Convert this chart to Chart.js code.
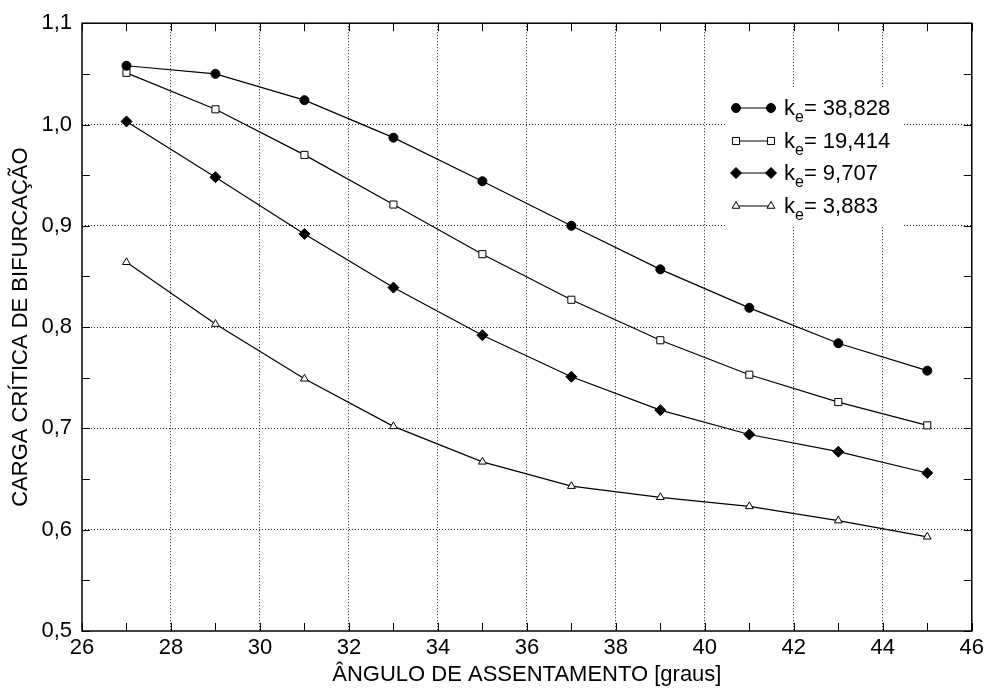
<!DOCTYPE html>
<html>
<head>
<meta charset="utf-8">
<script src="https://cdn.jsdelivr.net/npm/chart.js@4/dist/chart.umd.min.js"></script>
<style>
  body { margin: 0; background: #fff; }
</style>
</head>
<body>
<canvas id="myChart" width="988" height="690"></canvas>
<script>
const angles = [27, 29, 31, 33, 35, 37, 39, 41, 43, 45];
const ke38828 = [1.058, 1.050, 1.024, 0.987, 0.944, 0.900, 0.857, 0.819, 0.784, 0.757];
const ke19414 = [1.051, 1.015, 0.970, 0.921, 0.872, 0.827, 0.787, 0.753, 0.726, 0.703];
const ke9707 = [1.003, 0.948, 0.892, 0.839, 0.792, 0.751, 0.718, 0.694, 0.677, 0.656];
const ke3883 = [0.864, 0.803, 0.749, 0.702, 0.667, 0.643, 0.632, 0.623, 0.609, 0.593];
const seriesNames = ['38,828', '19,414', '9,707', '3,883'];

const FONT = '"Liberation Sans", Arial, Helvetica, sans-serif';

const toPoints = (vals) => angles.map((a, i) => ({ x: a, y: vals[i] }));

const styles = [
    { pointStyle: 'circle', radius: 4.5, fill: '#000' },
    { pointStyle: 'rect', radius: 5, fill: '#fff' },
    { pointStyle: 'rectRot', radius: 5.5, fill: '#000' },
    { pointStyle: 'triangle', radius: 4.5, fill: '#fff' }
];

const makeSet = (vals, idx) => ({
    label: 'ke= ' + seriesNames[idx],
    data: toPoints(vals),
    borderColor: '#000',
    borderWidth: 1.2,
    backgroundColor: styles[idx].fill,
    pointStyle: styles[idx].pointStyle,
    pointRadius: styles[idx].radius,
    pointBorderColor: '#000',
    pointBackgroundColor: styles[idx].fill,
    pointBorderWidth: 1,
    tension: 0,
    fill: false
});

const isMajorY = (v) => Math.abs(Math.round(v * 10) - v * 10) < 1e-6;

// inward ticks on all four sides + the box
const frameTicks = {
    id: 'frameTicks',
    afterDraw(chart) {
        const { ctx, chartArea: a, scales } = chart;
        ctx.save();
        ctx.strokeStyle = '#000';
        ctx.lineWidth = 1;
        for (let v = 26; v <= 46; v++) {
            const px = Math.round(scales.x.getPixelForValue(v)) + 0.5;
            ctx.beginPath();
            ctx.moveTo(px, a.bottom); ctx.lineTo(px, a.bottom - 8);
            ctx.moveTo(px, a.top); ctx.lineTo(px, a.top + 8);
            ctx.stroke();
        }
        for (let k = 10; k <= 22; k++) {
            const py = Math.round(scales.y.getPixelForValue(k * 0.05)) + 0.5;
            ctx.beginPath();
            ctx.moveTo(a.left, py); ctx.lineTo(a.left + 8, py);
            ctx.moveTo(a.right, py); ctx.lineTo(a.right - 8, py);
            ctx.stroke();
        }
        ctx.lineWidth = 1.5;
        ctx.strokeRect(a.left, a.top, a.right - a.left, a.bottom - a.top);
        ctx.restore();
    }
};

// legend box with subscript e
const keLegend = {
    id: 'keLegend',
    afterDraw(chart) {
        const ctx = chart.ctx;
        ctx.save();
        ctx.fillStyle = '#fff';
        ctx.fillRect(725, 87, 178, 140);
        const rows = [108, 141, 173, 206];
        chart.data.datasets.forEach((ds, i) => {
            const y = rows[i];
            ctx.strokeStyle = '#000';
            ctx.lineWidth = 1.2;
            ctx.beginPath();
            ctx.moveTo(736, y); ctx.lineTo(771, y);
            ctx.stroke();
            const opts = {
                pointStyle: ds.pointStyle, radius: ds.pointRadius, rotation: 0,
                borderWidth: 1
            };
            [736, 771].forEach(x => {
                ctx.fillStyle = ds.pointBackgroundColor;
                ctx.strokeStyle = '#000';
                ctx.lineWidth = 1;
                Chart.helpers.drawPoint(ctx, opts, x, y);
            });
            ctx.fillStyle = '#000';
            ctx.textBaseline = 'alphabetic';
            ctx.textAlign = 'left';
            ctx.font = '22px ' + FONT;
            ctx.fillText('k', 784, y + 7);
            const kw = ctx.measureText('k').width;
            ctx.font = '16px ' + FONT;
            ctx.fillText('e', 784 + kw, y + 14);
            const ew = ctx.measureText('e').width;
            ctx.font = '22px ' + FONT;
            ctx.fillText('= ' + seriesNames[i], 784 + kw + ew, y + 7);
        });
        ctx.restore();
    }
};

new Chart(document.getElementById('myChart'), {
    type: 'line',
    data: {
        datasets: [
            makeSet(ke38828, 0),
            makeSet(ke19414, 1),
            makeSet(ke9707, 2),
            makeSet(ke3883, 3)
        ]
    },
    options: {
        responsive: false,
        animation: false,
        layout: { padding: { top: 20, right: 15, left: 0, bottom: 0 } },
        plugins: {
            legend: { display: false },
            tooltip: { enabled: false }
        },
        scales: {
            x: {
                type: 'linear',
                min: 26,
                max: 46,
                afterFit: (s) => { s.height = 59; },
                ticks: {
                    stepSize: 1,
                    autoSkip: false,
                    maxRotation: 0,
                    padding: 4,
                    color: '#000',
                    font: { family: FONT, size: 22 },
                    callback: (v) => (v % 2 === 0 ? String(v) : '')
                },
                grid: {
                    drawTicks: false,
                    lineWidth: 1,
                    color: (c) => {
                        const v = c.tick && c.tick.value;
                        return (v % 2 === 0 && v > 26 && v < 46) ? '#222' : 'rgba(0,0,0,0)';
                    }
                },
                border: { display: false, dash: [1, 2] },
                title: {
                    display: true,
                    text: 'ÂNGULO DE ASSENTAMENTO [graus]',
                    color: '#000',
                    font: { family: FONT, size: 22 },
                    padding: { top: 0, bottom: 2 }
                }
            },
            y: {
                min: 0.5,
                max: 1.1,
                afterFit: (s) => { s.width = 82; },
                ticks: {
                    stepSize: 0.05,
                    autoSkip: false,
                    padding: 10,
                    color: '#000',
                    font: { family: FONT, size: 22 },
                    callback: (v) => (isMajorY(v) ? v.toFixed(1).replace('.', ',') : '')
                },
                grid: {
                    drawTicks: false,
                    lineWidth: 1,
                    color: (c) => {
                        const v = c.tick && c.tick.value;
                        return (isMajorY(v) && v > 0.55 && v < 1.05) ? '#222' : 'rgba(0,0,0,0)';
                    }
                },
                border: { display: false, dash: [1, 2] },
                title: {
                    display: true,
                    text: 'CARGA CRÍTICA DE BIFURCAÇÃO',
                    color: '#000',
                    font: { family: FONT, size: 22 },
                    padding: { top: 8, bottom: 0 }
                }
            }
        }
    },
    plugins: [frameTicks, keLegend]
});
</script>
</body>
</html>
